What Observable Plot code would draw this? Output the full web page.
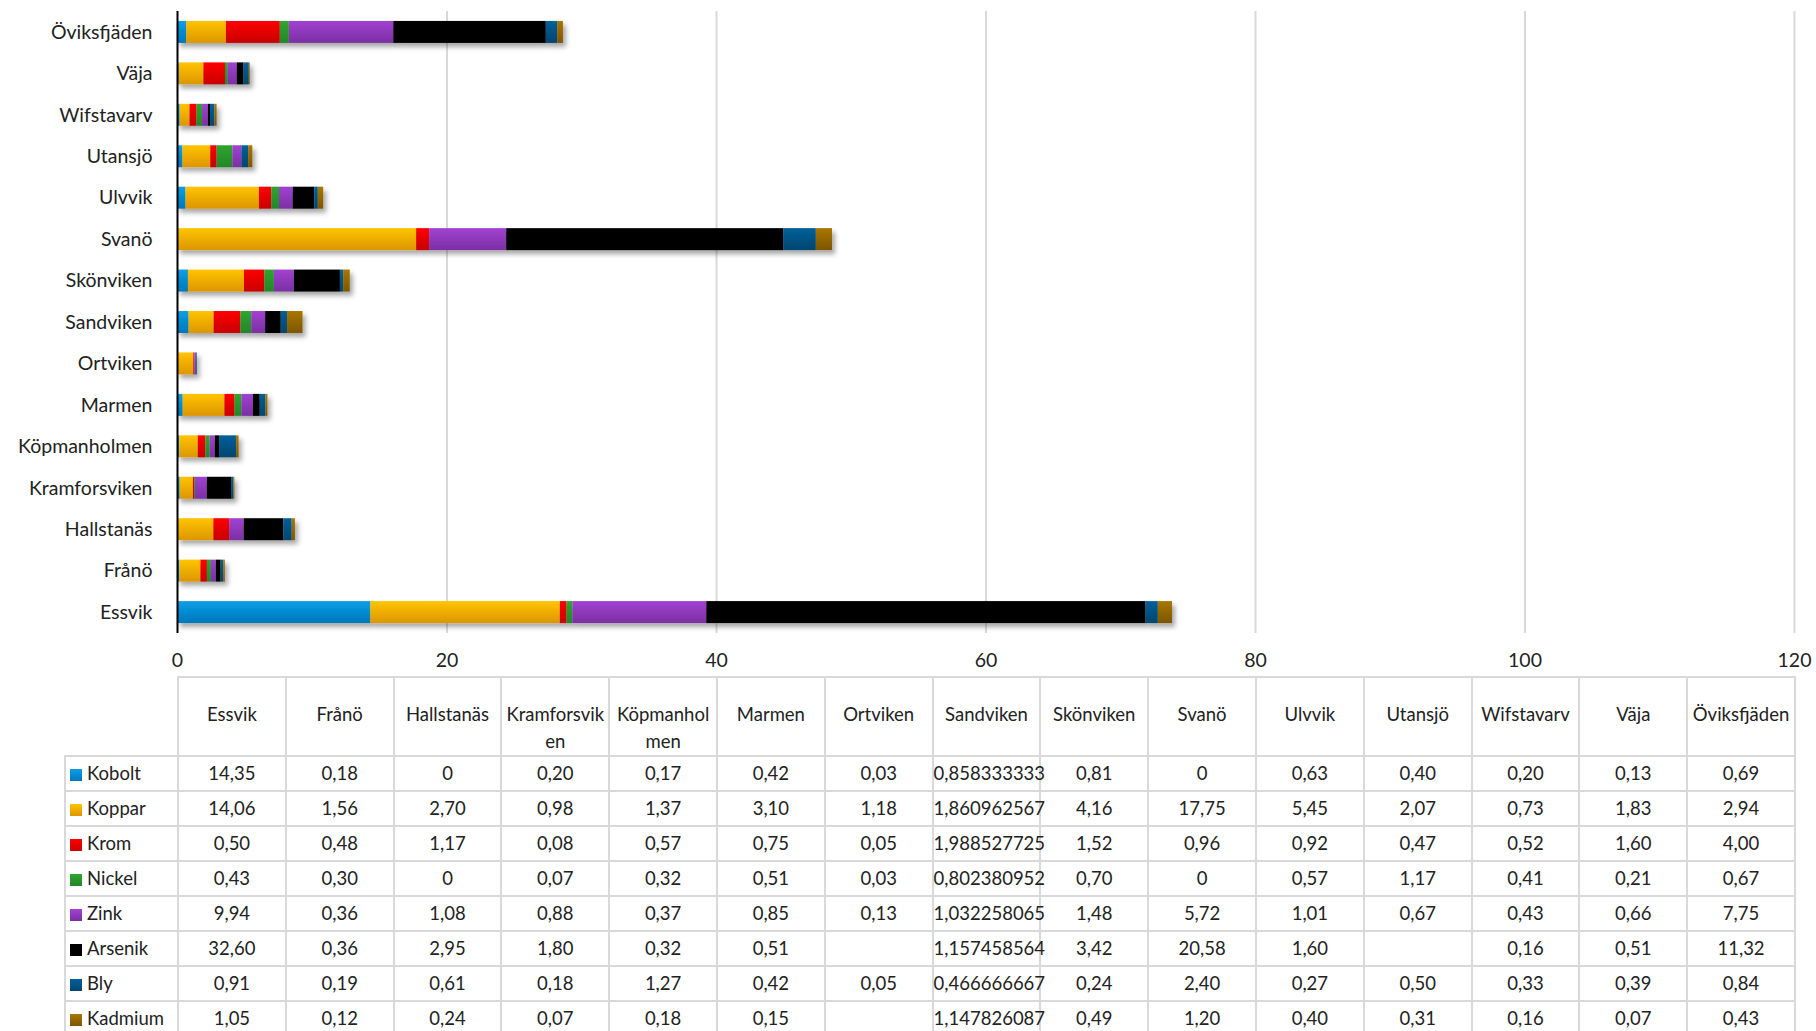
<!DOCTYPE html>
<html>
<head>
<meta charset="utf-8">
<script src="https://cdn.jsdelivr.net/npm/d3@7"></script>
<script src="https://cdn.jsdelivr.net/npm/@observablehq/plot@0.6"></script>
<style>
  html, body { margin: 0; padding: 0; background: #fff; width: 1816px; height: 1031px; overflow: hidden; }
  body { font-family: Lato, "Noto Sans", sans-serif; color: #222; position: relative; }
  #chart { position: absolute; left: 0; top: 0; }
  #table { position: absolute; left: 64px; top: 676px; width: 1731px; border-collapse: collapse; table-layout: fixed; font-size: 18.5px; }
  #table td, #table th { border: 2px solid #d9d9d9; padding: 0; text-align: center; font-weight: normal; }
  #table th { height: 76px; vertical-align: top; line-height: 27px; padding-top: 23px; box-sizing: border-box; word-break: break-all; }
  #table td { height: 35px; line-height: 33px; vertical-align: middle; box-sizing: border-box; white-space: nowrap; }
  #table th.corner { border-top: none; border-left: none; }
  #table td.lg { text-align: left; padding-left: 4px; }
  .sw { display: inline-block; width: 12px; height: 12px; margin-right: 5px; vertical-align: -1px; }
</style>
</head>
<body>
<div id="chart"></div>
<table id="table"></table>
<script>
// ---- data ----
const locations = ["Essvik","Frånö","Hallstanäs","Kramforsviken","Köpmanholmen","Marmen","Ortviken","Sandviken","Skönviken","Svanö","Ulvvik","Utansjö","Wifstavarv","Väja","Öviksfjäden"];
const metals = ["Kobolt","Koppar","Krom","Nickel","Zink","Arsenik","Bly","Kadmium"];
const kobolt  = [14.35, 0.18, 0, 0.20, 0.17, 0.42, 0.03, 0.858333333, 0.81, 0, 0.63, 0.40, 0.20, 0.13, 0.69];
const koppar  = [14.06, 1.56, 2.70, 0.98, 1.37, 3.10, 1.18, 1.860962567, 4.16, 17.75, 5.45, 2.07, 0.73, 1.83, 2.94];
const krom    = [0.50, 0.48, 1.17, 0.08, 0.57, 0.75, 0.05, 1.988527725, 1.52, 0.96, 0.92, 0.47, 0.52, 1.60, 4.00];
const nickel  = [0.43, 0.30, 0, 0.07, 0.32, 0.51, 0.03, 0.802380952, 0.70, 0, 0.57, 1.17, 0.41, 0.21, 0.67];
const zink    = [9.94, 0.36, 1.08, 0.88, 0.37, 0.85, 0.13, 1.032258065, 1.48, 5.72, 1.01, 0.67, 0.43, 0.66, 7.75];
const arsenik = [32.60, 0.36, 2.95, 1.80, 0.32, 0.51, null, 1.157458564, 3.42, 20.58, 1.60, null, 0.16, 0.51, 11.32];
const bly     = [0.91, 0.19, 0.61, 0.18, 1.27, 0.42, 0.05, 0.466666667, 0.24, 2.40, 0.27, 0.50, 0.33, 0.39, 0.84];
const kadmium = [1.05, 0.12, 0.24, 0.07, 0.18, 0.15, null, 1.147826087, 0.49, 1.20, 0.40, 0.31, 0.16, 0.07, 0.43];
const series = [kobolt, koppar, krom, nickel, zink, arsenik, bly, kadmium];
const xTicks = [0, 20, 40, 60, 80, 100, 120];
const fullPrecision = ["Sandviken"];

// ---- styles ----
const colorTop    = ["#0a9ee6", "#ffc400", "#ff0000", "#2fa52f", "#a142d2", "#000000", "#00609a", "#a97600"];
const colorBottom = ["#0078bb", "#dc9600", "#c80000", "#23862a", "#7b2fa3", "#000000", "#00466f", "#7d5600"];

const data = metals.flatMap((m, i) => locations.map((loc, j) => ({metal: m, location: loc, value: series[i][j] ?? 0})));

const chart = Plot.plot({
  width: 1816,
  height: 680,
  marginLeft: 177,
  marginRight: 22,
  marginTop: 11,
  marginBottom: 47,
  style: {fontFamily: "Lato, 'Noto Sans', sans-serif", fontSize: "19.5px", color: "#222", background: "#fff"},
  x: {domain: [0, 120], ticks: xTicks, label: null, tickSize: 0, tickPadding: 20},
  y: {domain: locations.slice().reverse(), paddingInner: 0.47, paddingOuter: 0.24, round: false, label: null, tickSize: 0, tickPadding: 25},
  color: {domain: metals, range: metals.map((m, i) => `url(#grad${i})`)},
  marks: [
    Plot.ruleX(xTicks.filter(d => d > 0), {stroke: "#d9d9d9", strokeWidth: 2}),
    Plot.barX(data, {x: "value", y: "location", fill: "metal"}),
    Plot.ruleX([0], {stroke: "#000", strokeWidth: 2})
  ]
});
document.getElementById("chart").appendChild(chart);

const svg = d3.select(chart);
const defs = svg.insert("defs", ":first-child");
metals.forEach((m, i) => {
  const g = defs.append("linearGradient").attr("id", `grad${i}`).attr("x1", 0).attr("y1", 0).attr("x2", 0).attr("y2", 1);
  g.append("stop").attr("offset", "0%").attr("stop-color", colorTop[i]);
  g.append("stop").attr("offset", "100%").attr("stop-color", colorBottom[i]);
});
const f = defs.append("filter").attr("id", "shadow").attr("x", "-10%").attr("y", "-30%").attr("width", "130%").attr("height", "180%");
f.append("feDropShadow").attr("dx", 3).attr("dy", 4).attr("stdDeviation", 2.5).attr("flood-color", "#000").attr("flood-opacity", 0.35);
svg.selectAll("g[aria-label='bar']").attr("filter", "url(#shadow)");

// ---- data table ----
const fmt = (v, loc) => {
  if (v == null) return "";
  if (v === 0) return "0";
  const s = fullPrecision.includes(loc) ? String(v) : v.toFixed(2);
  return s.replace(".", ",");
};
const table = d3.select("#table");
const cg = table.append("colgroup");
cg.append("col").style("width", "113px");
locations.forEach(() => cg.append("col").style("width", "107.8px"));
const hr = table.append("tr");
hr.append("th").attr("class", "corner");
locations.forEach(loc => hr.append("th").text(loc));
metals.forEach((m, i) => {
  const tr = table.append("tr");
  const lc = tr.append("td").attr("class", "lg");
  lc.append("span").attr("class", "sw").style("background", `linear-gradient(${colorTop[i]}, ${colorBottom[i]})`);
  lc.append("span").text(m);
  locations.forEach((loc, j) => tr.append("td").text(fmt(series[i][j], loc)));
});
</script>
</body>
</html>
